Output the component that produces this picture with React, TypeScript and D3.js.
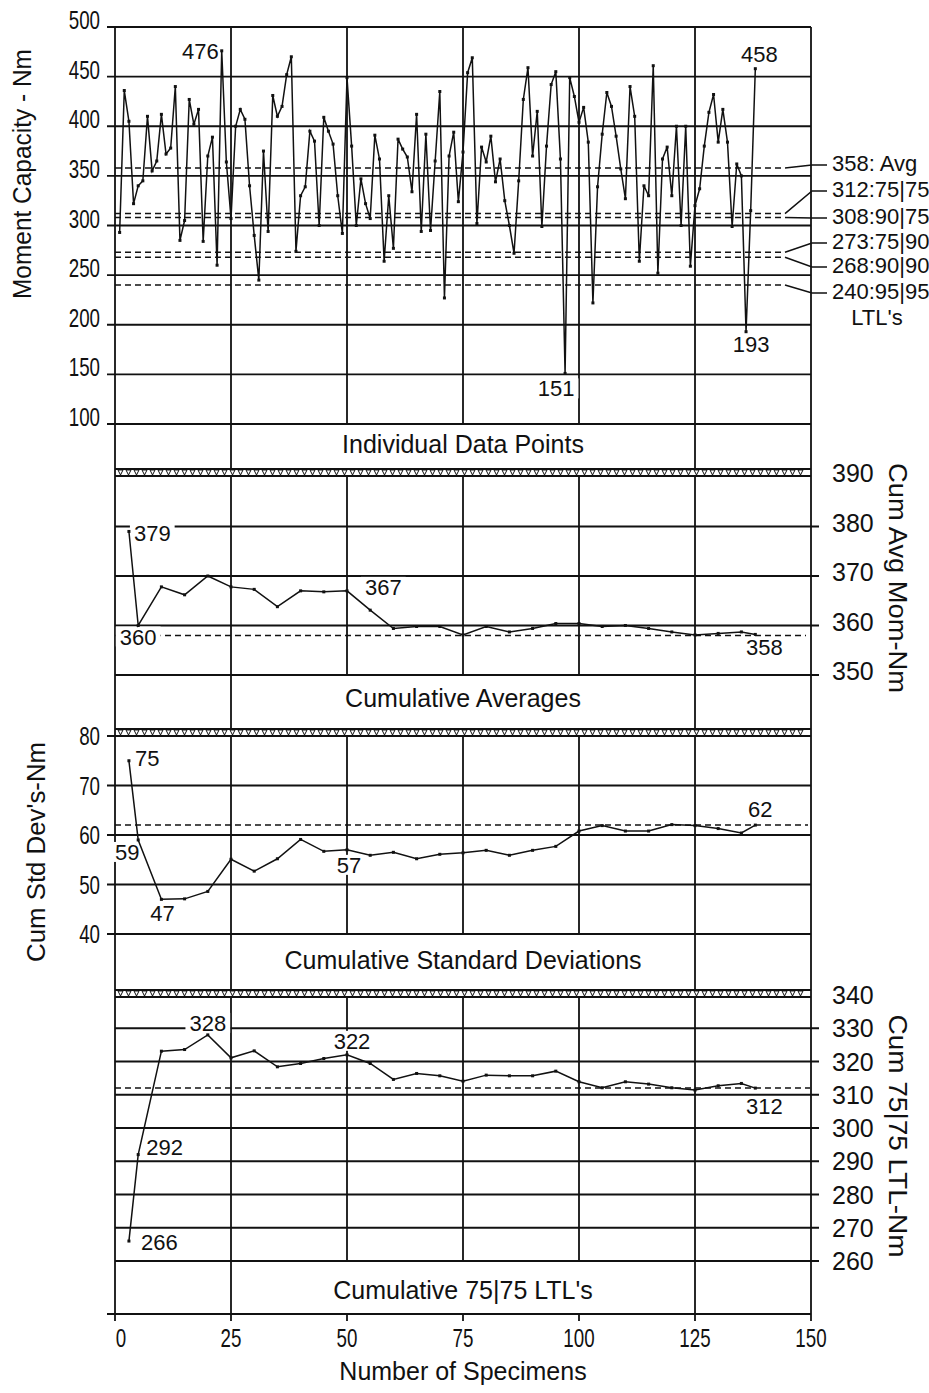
import { useRef, useEffect } from "react";
import * as d3 from "d3";

// individual moment capacities, specimens 1..138
const momentCapacity = [
  293, 436, 405, 322, 340, 345, 410, 355, 365, 412,
  372, 378, 440, 285, 305, 427, 402, 417, 284, 370,
  389, 260, 476, 364, 307, 400, 417, 407, 340, 290,
  245, 375, 294, 431, 410, 420, 452, 470, 274, 330,
  339, 395, 385, 300, 409, 395, 382, 330, 292, 449,
  380, 300, 347, 322, 307, 391, 367, 264, 330, 277,
  387, 377, 369, 334, 412, 294, 392, 295, 365, 435,
  227, 370, 394, 324, 374, 454, 469, 302, 379, 364,
  390, 344, 367, 325, 300, 272, 345, 427, 459, 370,
  415, 299, 380, 442, 455, 367, 151, 449, 430, 404,
  419, 384, 222, 339, 392, 434, 420, 390, 357, 327,
  440, 410, 264, 340, 330, 461, 252, 367, 379, 330,
  400, 300, 400, 259, 320, 337, 380, 414, 432, 384,
  417, 384, 299, 362, 350, 193, 315, 458,
];

const cumSpecimens = [3, 5, 10, 15, 20, 25, 30, 35, 40, 45, 50, 55, 60, 65, 70, 75, 80, 85, 90, 95, 100, 105, 110, 115, 120, 125, 130, 135, 138];
const cumAverage = [379, 360, 367.8, 366.2, 370, 367.8, 367.3, 363.8, 367, 366.8, 367, 363.1, 359.4, 359.8, 359.8, 358.1, 359.8, 358.7, 359.4, 360.4, 360.4, 359.8, 360, 359.4, 358.7, 358.1, 358.4, 358.7, 358.2];
const cumStdDev = [75, 59, 47, 47.1, 48.6, 55.1, 52.7, 55.2, 59.1, 56.7, 57, 55.9, 56.5, 55.2, 56.1, 56.4, 56.9, 55.9, 56.9, 57.7, 60.8, 61.9, 60.8, 60.8, 62.1, 61.9, 61.3, 60.4, 62];
const cumLtl7575 = [266, 292, 323.1, 323.6, 328, 321.1, 323.2, 318.4, 319.4, 320.9, 322, 319.4, 314.6, 316.4, 315.7, 314.1, 315.9, 315.7, 315.7, 317.1, 313.9, 312.1, 313.9, 313.2, 312.1, 311.4, 312.7, 313.4, 312];

const ltlValues = [358, 312, 308, 273, 268, 240];
const ltlLabels = ["358: Avg", "312:75|75", "308:90|75", "273:75|90", "268:90|90", "240:95|95"];

const xTicks = [0, 25, 50, 75, 100, 125, 150];
const momentTicks = [500, 450, 400, 350, 300, 250, 200, 150, 100];
const avgTicks = [390, 380, 370, 360, 350];
const stdTicks = [80, 70, 60, 50, 40];
const ltlTicks = [340, 330, 320, 310, 300, 290, 280, 270, 260];

const momentNotes = [23, 97, 136, 138];
const avgNotes = [3, 5, 50, 138];
const stdNotes = [3, 5, 10, 50, 138];
const ltlNotes = [3, 5, 20, 50, 138];

const App = () => {
  const container = useRef(null);
  useEffect(() => {
    drawChart();
  });

  const drawChart = () => {
    const node = container.current;
    const svg = d3
      .select(node)
      .selectAll("svg")
      .data([0])
      .join("svg")
      .attr("width", 929)
      .attr("height", 1393)
      .style("display", "block")
      .style("font-family", "'Liberation Sans', Arial, sans-serif");
    svg.selectAll("*").remove();

    svg.append("rect").attr("width", 929).attr("height", 1393).attr("fill", "#fff");

    const ink = "#111";
    const xScale = d3.scaleLinear().domain([0, 150]).range([115, 811]);
    const xL = xScale(0);
    const xR = xScale(150);

    const panels = [
      { top: 27, rowTop: 424, bottom: 469, y: d3.scaleLinear().domain([500, 100]).range([27, 424]), ticks: momentTicks, side: "left", tickDy: 2, title: "Individual Data Points", titleBase: 453, band: true },
      { top: 476, rowTop: 675, bottom: 729, y: d3.scaleLinear().domain([390, 350]).range([477, 675]), ticks: avgTicks, side: "right", tickDy: 5, title: "Cumulative Averages", titleBase: 707, band: true },
      { top: 736, rowTop: 934, bottom: 990, y: d3.scaleLinear().domain([80, 40]).range([736, 934]), ticks: stdTicks, side: "left", tickDy: 9, title: "Cumulative Standard Deviations", titleBase: 969, band: true },
      { top: 997, rowTop: 1261, bottom: 1314, y: d3.scaleLinear().domain([340, 260]).range([995, 1261]), ticks: ltlTicks, side: "right", tickDy: 9, title: "Cumulative 75|75 LTL's", titleBase: 1299, band: false },
    ];

    const grid = svg.append("g").attr("stroke", ink).attr("stroke-width", 1.8).attr("fill", "none");

    panels.forEach((p) => {
      // horizontal grid lines, with ticks sticking out on the axis side
      p.ticks.forEach((t, i) => {
        if (i === 0 && p.side === "right") return;
        const yy = p.y(t);
        grid
          .append("line")
          .attr("x1", p.side === "left" ? xL - 8 : xL)
          .attr("x2", p.side === "left" ? xR : xR + 8)
          .attr("y1", yy)
          .attr("y2", yy);
      });
      // vertical grid lines; the middle ones stop above the caption row
      xTicks.slice(1, -1).forEach((t) => {
        const full = t === 25 || t === 125;
        grid
          .append("line")
          .attr("x1", xScale(t))
          .attr("x2", xScale(t))
          .attr("y1", p.top)
          .attr("y2", full ? p.bottom : p.rowTop);
      });
      // separator band
      if (p.band) {
        const b = p.bottom;
        grid.append("line").attr("x1", xL).attr("x2", xR).attr("y1", b).attr("y2", b);
        grid.append("line").attr("x1", xL).attr("x2", xR).attr("y1", b + 7).attr("y2", b + 7);
        let tri = "";
        for (let xx = xL + 3; xx < xR - 5; xx += 8) {
          tri += `M${xx},${b + 1}L${xx + 5},${b + 1}L${xx + 2.5},${b + 6}Z`;
        }
        grid.append("path").attr("d", tri).attr("stroke-width", 1);
      }
      // tick labels (the left-hand ones are narrower in the original)
      svg
        .append("g")
        .selectAll("text")
        .data(p.ticks)
        .join("text")
        .attr("transform", (d) =>
          p.side === "left"
            ? `translate(100,${p.y(d) + p.tickDy}) scale(0.75,1)`
            : `translate(832,${p.y(d) + p.tickDy})`
        )
        .attr("text-anchor", p.side === "left" ? "end" : "start")
        .attr("font-size", 25)
        .attr("fill", ink)
        .text((d) => d);
      // caption
      svg
        .append("text")
        .attr("x", 463)
        .attr("y", p.titleBase)
        .attr("text-anchor", "middle")
        .attr("font-size", 25)
        .attr("fill", ink)
        .text(p.title);
    });

    // outer borders and bottom axis
    grid.append("line").attr("x1", xL).attr("x2", xL).attr("y1", 27).attr("y2", 1314);
    grid.append("line").attr("x1", xR).attr("x2", xR).attr("y1", 27).attr("y2", 1314);
    grid.append("line").attr("x1", xL - 8).attr("x2", xR).attr("y1", 1314).attr("y2", 1314);
    xTicks.forEach((t) => {
      grid.append("line").attr("x1", xScale(t)).attr("x2", xScale(t)).attr("y1", 1314).attr("y2", 1321);
    });
    svg
      .append("g")
      .selectAll("text")
      .data(xTicks)
      .join("text")
      .attr("transform", (d) => `translate(${xScale(d) + (d === 0 ? 6 : 0)},1347) scale(0.75,1)`)
      .attr("text-anchor", "middle")
      .attr("font-size", 25)
      .attr("fill", ink)
      .text((d) => d);
    svg
      .append("text")
      .attr("x", 463)
      .attr("y", 1380)
      .attr("text-anchor", "middle")
      .attr("font-size", 25)
      .attr("fill", ink)
      .text("Number of Specimens");

    // axis titles
    const axisTitle = (text, cx, cy, rot, len) => {
      svg
        .append("text")
        .attr("transform", `translate(${cx},${cy}) rotate(${rot})`)
        .attr("text-anchor", "middle")
        .attr("dy", "0.35em")
        .attr("font-size", 25)
        .attr("fill", ink)
        .attr("textLength", len)
        .attr("lengthAdjust", "spacingAndGlyphs")
        .text(text);
    };
    axisTitle("Moment Capacity - Nm", 22, 174, -90, 250);
    axisTitle("Cum Std Dev's-Nm", 36, 852, -90, 220);
    axisTitle("Cum Avg Mom-Nm", 898, 578, 90, 230);
    axisTitle("Cum 75|75 LTL-Nm", 898, 1136, 90, 243);

    // dashed reference lines
    const dashed = svg
      .append("g")
      .attr("stroke", ink)
      .attr("stroke-width", 1.5)
      .attr("stroke-dasharray", "6,4")
      .attr("fill", "none");
    const p1 = panels[0].y;
    ltlValues.forEach((v) => {
      dashed.append("line").attr("x1", xL).attr("x2", 785).attr("y1", p1(v)).attr("y2", p1(v));
    });
    dashed.append("line").attr("x1", xL).attr("x2", 806).attr("y1", panels[1].y(358)).attr("y2", panels[1].y(358));
    dashed.append("line").attr("x1", xL).attr("x2", 808).attr("y1", panels[2].y(62)).attr("y2", panels[2].y(62));
    dashed.append("line").attr("x1", xL).attr("x2", 810).attr("y1", panels[3].y(312)).attr("y2", panels[3].y(312));

    // leader lines and labels for the LTL values
    const labelY = [165, 191, 218, 243, 267, 293];
    ltlValues.forEach((v, i) => {
      svg
        .append("path")
        .attr("d", `M785,${p1(v)}L812,${labelY[i]}L827,${labelY[i]}`)
        .attr("stroke", ink)
        .attr("stroke-width", 1.5)
        .attr("fill", "none");
      svg
        .append("text")
        .attr("x", 832)
        .attr("y", labelY[i] + 6)
        .attr("font-size", 22)
        .attr("fill", ink)
        .text(ltlLabels[i]);
    });
    svg
      .append("text")
      .attr("x", 877)
      .attr("y", 325)
      .attr("text-anchor", "middle")
      .attr("font-size", 22)
      .attr("fill", ink)
      .text("LTL's");

    // annotation labels (white box behind, drawn before the data lines)
    const noteLayer = svg.append("g");
    const notes = [];
    const addNote = (px, py, text, dx, dy, anchor) => {
      notes.push({ x: px + dx, y: py + dy, text, anchor });
    };
    const noteOffsets = {
      moment: [[-3, 8, "end"], [-9, 23, "middle"], [5, 20, "middle"], [4, -7, "middle"]],
      avg: [[5, 9.5, "start"], [0, 19, "middle"], [18, 4, "start"], [9, 21, "middle"]],
      std: [[6, 5, "start"], [-11, 20, "middle"], [1, 21.5, "middle"], [2, 23, "middle"], [5, -8, "middle"]],
      ltl: [[12, 9, "start"], [8, 0, "start"], [0, -4, "middle"], [5, -6, "middle"], [9, 26, "middle"]],
    };
    momentNotes.forEach((n, i) => {
      const v = momentCapacity[n - 1];
      const o = noteOffsets.moment[i];
      addNote(xScale(n), p1(v), String(v), o[0], o[1], o[2]);
    });
    const cumSets = [
      [avgNotes, cumAverage, panels[1].y, noteOffsets.avg],
      [stdNotes, cumStdDev, panels[2].y, noteOffsets.std],
      [ltlNotes, cumLtl7575, panels[3].y, noteOffsets.ltl],
    ];
    cumSets.forEach(([ns, vals, ys, offs]) => {
      ns.forEach((n, i) => {
        const v = vals[cumSpecimens.indexOf(n)];
        const o = offs[i];
        addNote(xScale(n), ys(v), String(Math.round(v)), o[0], o[1], o[2]);
      });
    });
    const noteTexts = [];
    notes.forEach((nt) => {
      const t = svg
        .append("text")
        .attr("x", nt.x)
        .attr("y", nt.y)
        .attr("text-anchor", nt.anchor)
        .attr("font-size", 22)
        .attr("fill", ink)
        .text(nt.text);
      noteTexts.push(t);
    });
    noteTexts.forEach((t, i) => {
      const w = t.node().getComputedTextLength();
      const nt = notes[i];
      const left = nt.anchor === "end" ? nt.x - w : nt.anchor === "middle" ? nt.x - w / 2 : nt.x;
      noteLayer
        .append("rect")
        .attr("x", left - 4)
        .attr("y", nt.y - 18)
        .attr("width", w + 8)
        .attr("height", 20)
        .attr("fill", "#fff");
    });

    // data lines
    const dataLayer = svg.append("g");
    const drawSeries = (xs, vals, ys) => {
      const pts = vals.map((v, i) => [xScale(xs[i]), ys(v)]);
      dataLayer
        .append("path")
        .attr("d", d3.line()(pts))
        .attr("stroke", ink)
        .attr("stroke-width", 1.5)
        .attr("fill", "none");
      dataLayer
        .append("g")
        .selectAll("rect")
        .data(pts)
        .join("rect")
        .attr("x", (d) => d[0] - 1.5)
        .attr("y", (d) => d[1] - 1.5)
        .attr("width", 3)
        .attr("height", 3)
        .attr("fill", ink);
    };
    drawSeries(momentCapacity.map((_, i) => i + 1), momentCapacity, p1);
    drawSeries(cumSpecimens, cumAverage, panels[1].y);
    drawSeries(cumSpecimens, cumStdDev, panels[2].y);
    drawSeries(cumSpecimens, cumLtl7575, panels[3].y);

    // keep label text on top
    noteTexts.forEach((t) => t.raise());
  };

  return <div ref={container} style={{ position: "absolute", left: 0, top: 0 }}></div>;
};

export default App;
